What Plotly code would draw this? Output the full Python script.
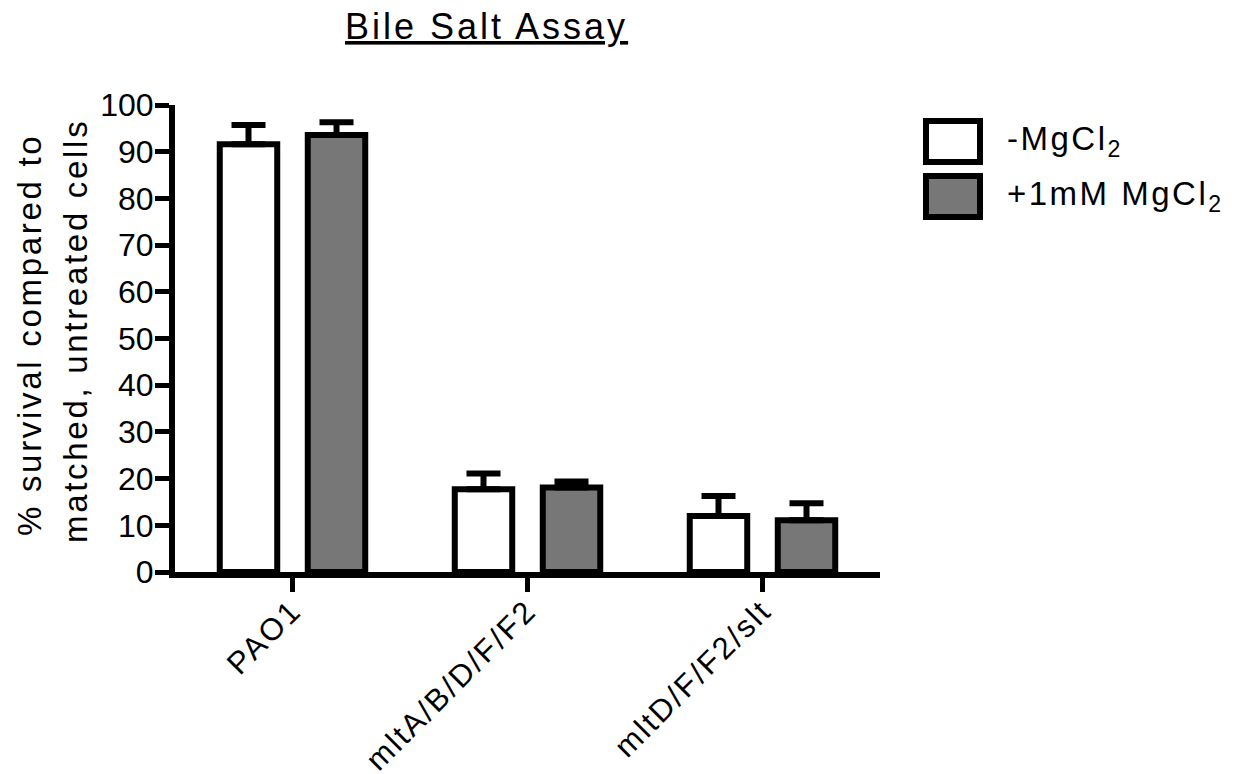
import plotly.graph_objects as go

# ---- data ----
categories = ["PAO1", "mltA/B/D/F/F2", "mltD/F/F2/slt"]
series_names = ["-MgCl<sub>2</sub>", "+1mM MgCl<sub>2</sub>"]
no_mg = [91.6, 17.7, 12.0]
no_mg_err = [4.1, 3.4, 4.3]
mg = [93.6, 18.1, 11.1]
mg_err = [2.7, 1.3, 3.6]
y_ticks = [0, 10, 20, 30, 40, 50, 60, 70, 80, 90, 100]
title_text = "Bile Salt Assay"
y_title_lines = ["% survival compared to", "matched, untreated cells"]

# ---- layout geometry (pixels) ----
W, H = 1244, 774
L, R, T, B = 175, 880, 105, 572
FONT = "Liberation Sans, Arial, Helvetica, sans-serif"
GREY = "#777777"


def px_x(p):
    return (p - L) / (R - L)


def px_y(p):
    return (B - p) / (B - T)


def spaced(s, sp=3):
    return f'<span style="letter-spacing:{sp}px">{s}</span>'


fig = go.Figure()
fig.add_trace(go.Bar(
    x=categories, y=no_mg, name=series_names[0],
    marker=dict(color="white", line=dict(color="black", width=6)),
    error_y=dict(type="data", array=no_mg_err, arrayminus=[0] * len(no_mg),
                 symmetric=False, color="black", thickness=6, width=17),
    showlegend=False,
))
fig.add_trace(go.Bar(
    x=categories, y=mg, name=series_names[1],
    marker=dict(color=GREY, line=dict(color="black", width=6)),
    error_y=dict(type="data", array=mg_err, arrayminus=[0] * len(mg),
                 symmetric=False, color="black", thickness=6, width=17),
    showlegend=False,
))

annotations = [
    dict(text=f'<u>{spaced(title_text, 3.0)}</u>', x=px_x(486), y=px_y(26),
         xref="paper", yref="paper", xanchor="center", yanchor="middle",
         showarrow=False, font=dict(family=FONT, size=36, color="black")),
    dict(text=spaced(y_title_lines[0], 2.7), x=px_x(29), y=px_y(335),
         xref="paper", yref="paper", xanchor="center", yanchor="middle",
         textangle=-90, showarrow=False,
         font=dict(family=FONT, size=33, color="black")),
    dict(text=spaced(y_title_lines[1], 2.7), x=px_x(75), y=px_y(331),
         xref="paper", yref="paper", xanchor="center", yanchor="middle",
         textangle=-90, showarrow=False,
         font=dict(family=FONT, size=33, color="black")),
]

# legend (boxes + labels)
legend_fills = ["white", GREY]
legend_box_y = [(121, 162), (176, 217)]
legend_text_y = [141, 196]
shapes = []
for fill, (y0, y1), ty, name in zip(legend_fills, legend_box_y, legend_text_y, series_names):
    shapes.append(dict(type="rect", xref="paper", yref="paper",
                       x0=px_x(926), x1=px_x(980), y0=px_y(y1), y1=px_y(y0),
                       fillcolor=fill, line=dict(color="black", width=6)))
    annotations.append(dict(text=spaced(name, 2.5), x=px_x(1005), y=px_y(ty),
                            xref="paper", yref="paper", xanchor="left", yanchor="middle",
                            showarrow=False,
                            font=dict(family=FONT, size=33, color="black")))

fig.update_layout(
    width=W, height=H,
    margin=dict(l=L, r=W - R, t=T, b=H - B, pad=0),
    paper_bgcolor="white", plot_bgcolor="white",
    barmode="group", bargap=0.251, bargroupgap=0.347,
    showlegend=False,
    annotations=annotations, shapes=shapes,
    font=dict(family=FONT, color="black"),
)
fig.update_xaxes(
    range=[-0.5, 2.5], showline=True, linecolor="black", linewidth=6,
    ticks="outside", ticklen=14, tickwidth=5, tickcolor="black",
    tickangle=-45, tickvals=categories,
    ticktext=[spaced(c, 2.4) for c in categories],
    tickfont=dict(family=FONT, size=31, color="black"),
    showgrid=False, zeroline=False, automargin=False,
)
fig.update_yaxes(
    range=[0, 100], showline=True, linecolor="black", linewidth=6,
    ticks="outside", ticklen=14, tickwidth=5, tickcolor="black",
    tickvals=y_ticks, ticktext=[str(v) for v in y_ticks],
    tickfont=dict(family=FONT, size=32, color="black"),
    showgrid=False, zeroline=False, automargin=False,
)
try:
    fig.update_xaxes(ticklabelstandoff=-12)
    fig.update_yaxes(ticklabelstandoff=-5)
except Exception:
    pass

fig.write_html(
    "out.html",
    config={"displayModeBar": False},
    post_script="document.body.style.margin='0px';document.body.style.overflow='hidden';",
)
